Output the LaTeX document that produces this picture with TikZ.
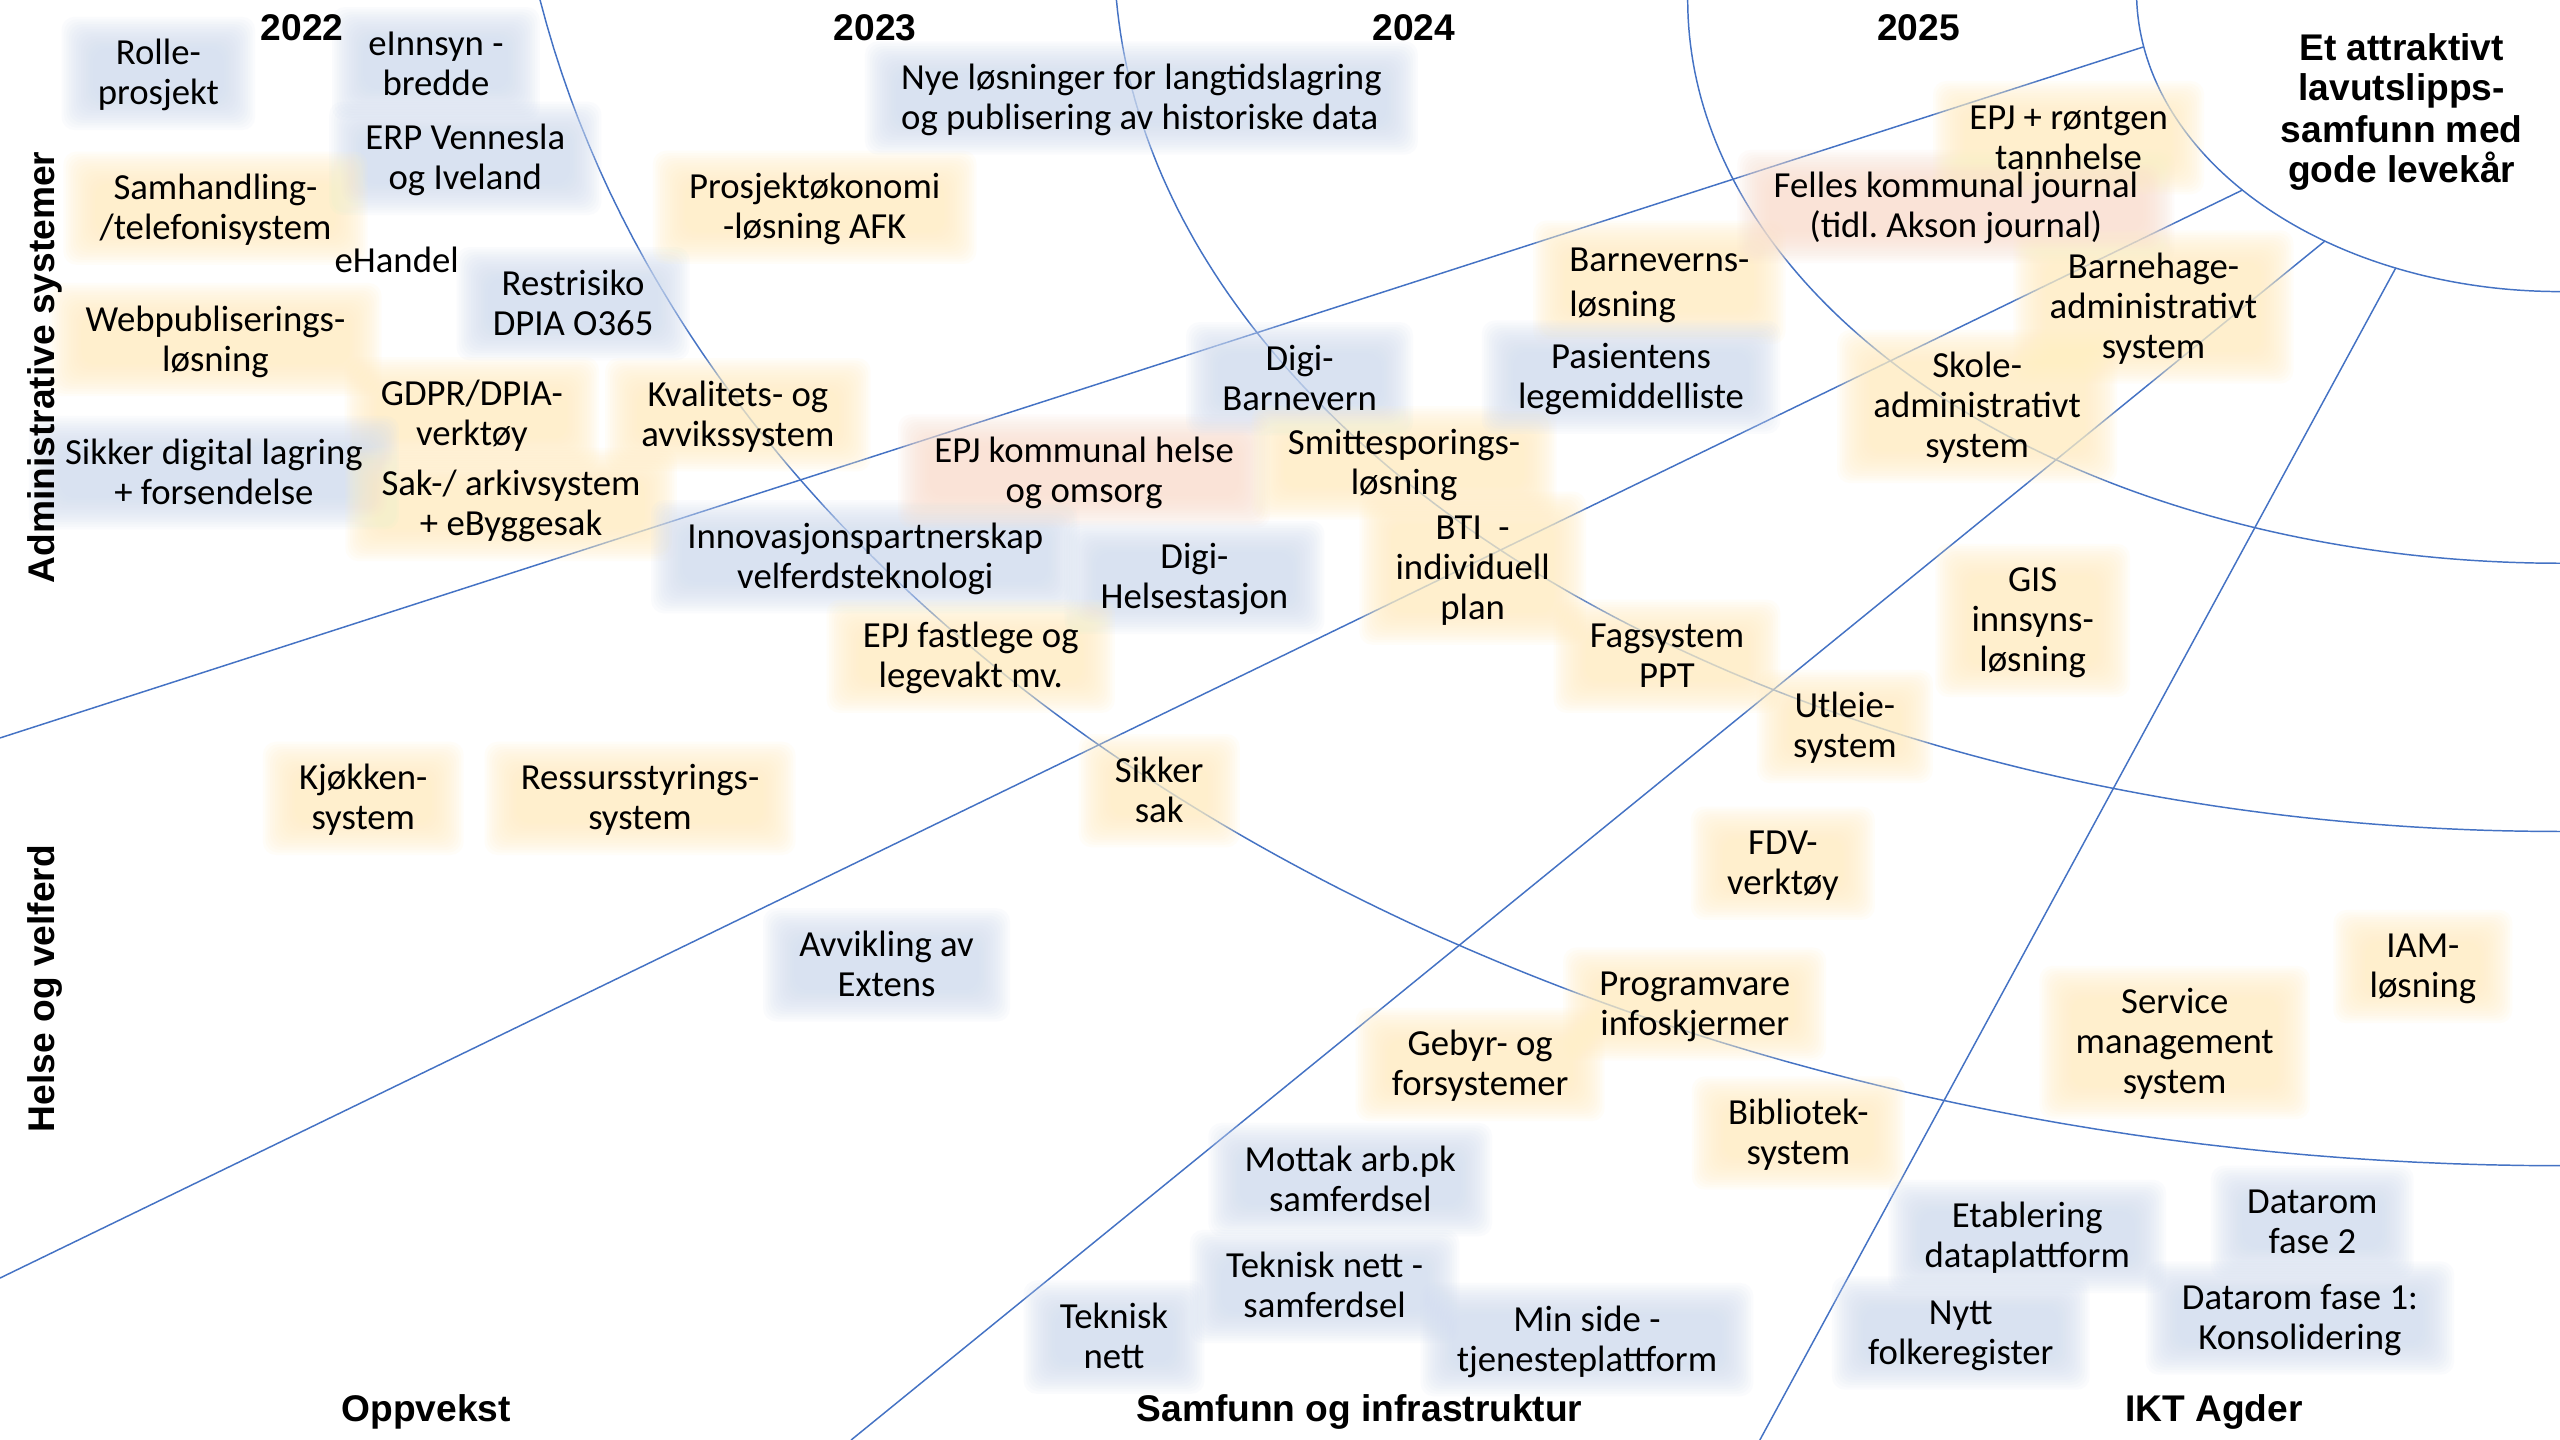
\documentclass[tikz,border=0pt]{standalone}
\usepackage{fontspec}
\setmainfont{Carlito}
\newfontfamily\hdrfont{Liberation Sans}
\definecolor{lineblue}{HTML}{4472C4}
\definecolor{gy}{HTML}{FFEFC4}
\definecolor{gb}{HTML}{D3DEF1}
\definecolor{gs}{HTML}{FAE0D0}
\pgfdeclarelayer{bg}
\pgfdeclarelayer{glow}
\pgfsetlayers{bg,glow,main}
\newcommand\lnS{\rule[-5.25pt]{0pt}{24.5pt}}
\newcommand\lnB{\rule[-6.85pt]{0pt}{27.7pt}}
\newcommand\lnH{\rule[-4.1pt]{0pt}{24.5pt}}
\newcommand\glowbox[2]{%
  \begin{pgfonlayer}{glow}
  \foreach \gA/\gB in {9/-9,7.5/-7.5,6/-6,4.5/-4.5,3/-3,1.5/-1.5,0/0,-1.5/1.5,-3/3,-4.5/4.5,-6/6,-7.5/7.5,-9/9,-10.5/10.5}{%
    \fill[#2,fill opacity=0.1,rounded corners=8pt]
      ([xshift=\gB pt,yshift=\gB pt]#1.south west) rectangle
      ([xshift=\gA pt,yshift=\gA pt]#1.north east);}
  \end{pgfonlayer}}
\newcommand\itm[5][]{\node[itm,#1] (#2) at (#3) {#5};\glowbox{#2}{#4}}
\begin{document}
\begin{tikzpicture}[x=1pt,y=-1pt,
  itm/.style={font=\fontsize{22.5}{24.5}\selectfont, align=center, inner xsep=13pt, inner ysep=1pt},
  hdr/.style={font=\hdrfont\bfseries\fontsize{22.75}{24.5}\selectfont, inner sep=0pt},
  grid/.style={draw=lineblue, line width=0.9pt}]
\useasboundingbox (0,0) rectangle (1568,882);
\begin{pgfonlayer}{bg}
  \fill[white] (0,0) rectangle (1568,882);
  % year arcs (ellipses centred near the top right corner)
  \draw[grid] plot[domain=1.56:90, samples=80] ({1568-259.4*cos(\x)}, {-5+183.6*sin(\x)});
  \draw[grid] plot[domain=0:90, samples=100] ({1568-534.3*cos(\x)}, {345*sin(\x)});
  \draw[grid] plot[domain=3.19:90, samples=120] ({1568-885.6*cos(\x)}, {-30+539.3*sin(\x)});
  \draw[grid] plot[domain=10:90, samples=160] ({1568-1256.3*cos(\x)}, {-150+864*sin(\x)});
  % sector boundaries
  \coordinate (a1) at (0,452);      \coordinate (a2) at (1313,28.7);
  \coordinate (b1) at (0,782.8);    \coordinate (b2) at (1373.5,116.4);
  \coordinate (c1) at (521.3,882);  \coordinate (c2) at (1423.8,147.8);
  \coordinate (d1) at (1077.9,882); \coordinate (d2) at (1467.4,164.1);
  \draw[grid] (a1) -- (a2);
  \draw[grid] (b1) -- (b2);
  \draw[grid] (c1) -- (c2);
  \draw[grid] (d1) -- (d2);
\end{pgfonlayer}

% headers
\node[hdr,anchor=base] (y22) at (185,25) {2022};
\node[hdr,anchor=base] (y23) at (536,25) {2023};
\node[hdr,anchor=base] (y24) at (866,25) {2024};
\node[hdr,anchor=base] (y25) at (1175,25) {2025};
\node[hdr,align=center] (goal) at (1471,66.6) {\lnH Et attraktivt\\\lnH lavutslipps-\\\lnH samfunn med\\\lnH gode levekår};
\node[hdr,rotate=90,anchor=base] (adm) at (33.2,225) {Administrative systemer};
\node[hdr,rotate=90,anchor=base] (helse) at (33.2,605.5) {Helse og velferd};
\node[hdr,anchor=base] (opp) at (261,870.5) {Oppvekst};
\node[hdr,anchor=base] (samf) at (832.7,870.5) {Samfunn og infrastruktur};
\node[hdr,anchor=base] (ikt) at (1356,870.5) {IKT Agder};

% items
\itm{rolle}{97,45}{gb}{\lnS Rolle-\\\lnS prosjekt}
\itm{innsyn}{267,39}{gb}{\lnS eInnsyn -\\\lnS bredde}
\itm{erp}{285,97}{gb}{\lnS ERP Vennesla\\\lnS og Iveland}
\itm{samh}{132,127.5}{gy}{\lnS Samhandling-\\\lnS /telefonisystem}
\node[itm] (ehandel) at (243,160) {\lnS eHandel};
\itm{restr}{351,186}{gb}{\lnS Restrisiko\\\lnS DPIA O365}
\itm{prosj}{499,127}{gy}{\lnS Prosjektøkonomi\\\lnS -løsning AFK}
\itm[anchor=west,align=left]{nye}{538.8,60}{gb}{\lnS Nye løsninger for langtidslagring\\\lnS og publisering av historiske data}
\itm{webp}{132,208}{gy}{\lnS Webpubliserings-\\\lnS løsning}
\itm{gdpr}{289,253.5}{gy}{\lnS GDPR/DPIA-\\\lnS verktøy}
\itm{kval}{452,254}{gy}{\lnS Kvalitets- og\\\lnS avvikssystem}
\itm{sikkerdig}{131,289.5}{gb}{\lnS Sikker digital lagring\\\lnS + forsendelse}
\itm{sak}{313,309}{gy}{\lnS Sak-/ arkivsystem\\\lnS + eByggesak}
\itm{innov}{530,341}{gb}{\lnS Innovasjonspartnerskap\\\lnS velferdsteknologi}
\itm{epjkom}{664,288.5}{gs}{\lnS EPJ kommunal helse\\\lnS og omsorg}
\itm{digibv}{796,232}{gb}{\lnS Digi-\\\lnS Barnevern}
\itm{smitte}{860,283.5}{gy}{\lnS Smittesporings-\\\lnS løsning}
\itm[anchor=west,align=left,font=\fontsize{22.5}{27.7}\selectfont]{bvlos}{948,173}{gy}{\lnB Barneverns-\\\lnB løsning}
\itm{pasient}{999,231}{gb}{\lnS Pasientens\\\lnS legemiddelliste}
\itm{felles}{1198,126.5}{gs}{\lnS Felles kommunal journal\\\lnS (tidl.\ Akson journal)}
\itm{epjtann}{1267,84.3}{gy}{\lnS EPJ + røntgen\\\lnS tannhelse}
\itm{barnehage}{1319,188}{gy}{\lnS Barnehage-\\\lnS administrativt\\\lnS system}
\itm{skole}{1211,249}{gy}{\lnS Skole-\\\lnS administrativt\\\lnS system}
\itm{bti}{902,348}{gy}{\lnS BTI\ \ -\\\lnS individuell\\\lnS plan}
\itm{digihelse}{731.6,353.7}{gb}{\lnS Digi-\\\lnS Helsestasjon}
\itm{epjfast}{594.6,402}{gy}{\lnS EPJ fastlege og\\\lnS legevakt mv.}
\itm{fagsys}{1021,402}{gy}{\lnS Fagsystem\\\lnS PPT}
\itm{gis}{1245,380}{gy}{\lnS GIS\\\lnS innsyns-\\\lnS løsning}
\itm{utleie}{1130,445}{gy}{\lnS Utleie-\\\lnS system}
\itm{kjokken}{222.5,489}{gy}{\lnS Kjøkken-\\\lnS system}
\itm{ressurs}{392,489}{gy}{\lnS Ressursstyrings-\\\lnS system}
\itm{sikkersak}{710,484.3}{gy}{\lnS Sikker\\\lnS sak}
\itm{fdv}{1092,528.7}{gy}{\lnS FDV-\\\lnS verktøy}
\itm{avvikling}{543,591}{gb}{\lnS Avvikling av\\\lnS Extens}
\itm{progvare}{1038,615}{gy}{\lnS Programvare\\\lnS infoskjermer}
\itm{gebyr}{906.6,652}{gy}{\lnS Gebyr- og\\\lnS forsystemer}
\itm{iam}{1484,592}{gy}{\lnS IAM-\\\lnS løsning}
\itm{service}{1332,638.5}{gy}{\lnS Service\\\lnS management\\\lnS system}
\itm{bibl}{1101.5,694}{gy}{\lnS Bibliotek-\\\lnS system}
\itm{mottak}{827,722.5}{gb}{\lnS Mottak arb.pk\\\lnS samferdsel}
\itm{tekniksam}{811.3,788}{gb}{\lnS Teknisk nett -\\\lnS samferdsel}
\itm{teknett}{682.3,819}{gb}{\lnS Teknisk\\\lnS nett}
\itm{minside}{972,820.5}{gb}{\lnS Min side -\\\lnS tjenesteplattform}
\itm{etabl}{1241.7,757.3}{gb}{\lnS Etablering\\\lnS dataplattform}
\itm{nytt}{1201,816.5}{gb}{\lnS Nytt\\\lnS folkeregister}
\itm{datarom2}{1416.3,748.6}{gb}{\lnS Datarom\\\lnS fase 2}
\itm{datarom1}{1408.7,807.3}{gb}{\lnS Datarom fase 1:\\\lnS Konsolidering}
\end{tikzpicture}
\end{document}
